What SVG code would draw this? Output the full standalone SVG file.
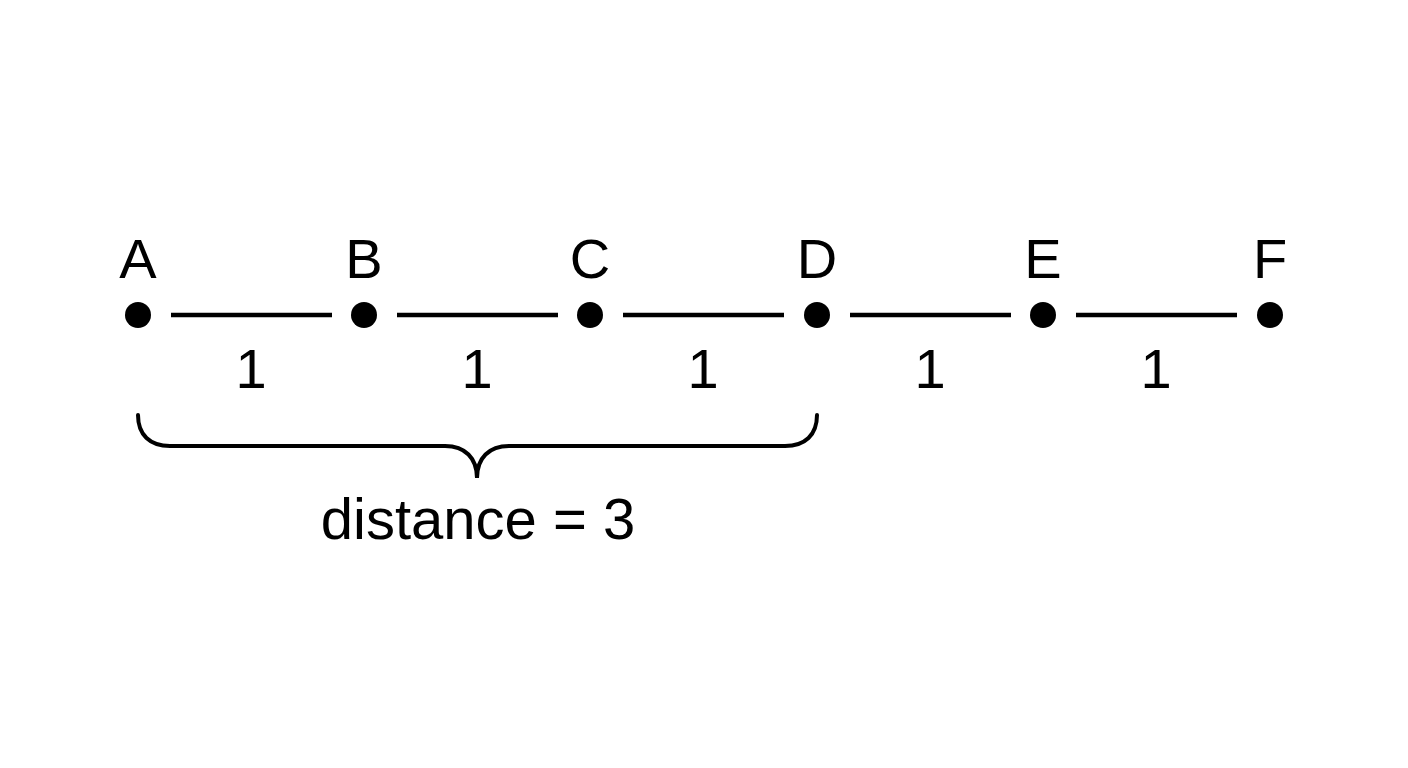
<svg xmlns="http://www.w3.org/2000/svg" width="1408" height="768" viewBox="0 0 1408 768">
<style>
text{font-family:"Liberation Sans",Arial,sans-serif;fill:#000;text-anchor:middle}
.lbl{font-size:56px}
.w{font-size:56px}
.dist{font-size:58px}
.edge{stroke:#000;stroke-width:4.5;fill:none}
.dot{fill:#000}
.brace{stroke:#000;stroke-width:4;fill:none;stroke-linecap:round}
</style>
<rect width="1408" height="768" fill="#fff"/>
<g id="edges">
<line class="edge" x1="171" y1="315" x2="332" y2="315"/>
<line class="edge" x1="397" y1="315" x2="558" y2="315"/>
<line class="edge" x1="623" y1="315" x2="784" y2="315"/>
<line class="edge" x1="850" y1="315" x2="1011" y2="315"/>
<line class="edge" x1="1076" y1="315" x2="1237" y2="315"/>
<text class="w" x="251" y="388">1</text>
<text class="w" x="477" y="388">1</text>
<text class="w" x="703" y="388">1</text>
<text class="w" x="930" y="388">1</text>
<text class="w" x="1156" y="388">1</text>
</g>
<g id="A"><circle class="dot" cx="138" cy="315" r="13"/><text class="lbl" x="138" y="278">A</text></g>
<g id="B"><circle class="dot" cx="364" cy="315" r="13"/><text class="lbl" x="364" y="278">B</text></g>
<g id="C"><circle class="dot" cx="590" cy="315" r="13"/><text class="lbl" x="590" y="278">C</text></g>
<g id="D"><circle class="dot" cx="817" cy="315" r="13"/><text class="lbl" x="817" y="278">D</text></g>
<g id="E"><circle class="dot" cx="1043" cy="315" r="13"/><text class="lbl" x="1043" y="278">E</text></g>
<g id="F"><circle class="dot" cx="1270" cy="315" r="13"/><text class="lbl" x="1270" y="278">F</text></g>
<g id="brace">
<path class="brace" d="M138,415 C138,435 150,446 170,446 L445,446 C465,446 477,458 477,478 C477,458 489,446 509,446 L785,446 C805,446 817,435 817,415"/>
<text class="dist" x="478" y="539">distance = 3</text>
</g>
</svg>
